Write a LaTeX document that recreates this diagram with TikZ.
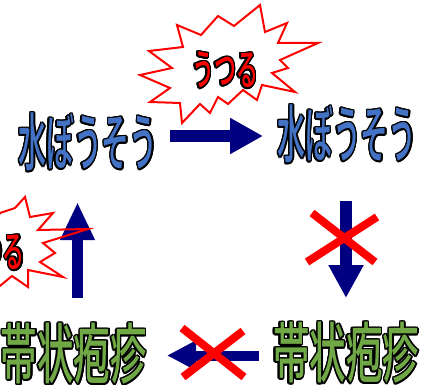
\documentclass[tikz,border=0pt]{standalone}
\usepackage{fontspec}
\usepackage{graphicx}
\usetikzlibrary{arrows.meta}
\newfontfamily\jp{Noto Sans CJK JP Medium}
\definecolor{navy}{HTML}{000080}
\definecolor{kblue}{HTML}{4472C4}
\definecolor{kgreen}{HTML}{70A845}
\definecolor{kred}{HTML}{FF0000}
\newcommand\jt[3]{\scalebox{1}[#2]{\fontsize{#1}{#1}\selectfont\jp #3}}
% name, position, fill colour, size, yscale, text
\newcommand\olnode[6]{%
  \foreach \a in {0,22.5,...,337.5}{\node[lbl, text=black, shift={(\a:1.5)}] at #2 {\jt{#4}{#5}{#6}};}%
  \node[lbl, text=#3] (#1) at #2 {\jt{#4}{#5}{#6}};}
\tikzset{
  lbl/.style={inner sep=0pt, outer sep=0pt},
  blockarrow/.style={navy, line width=#1},
  cross/.style={kred, line width=8pt},
  burst/.style={kred, line width=2pt, line join=miter}
}
\begin{document}
\begin{tikzpicture}[x=1pt,y=-1pt]
\useasboundingbox (0,0) rectangle (434,385);
\clip (0,0) rectangle (434,385);
% labels
\olnode{vz1}{(88,142)}{kblue}{27.8}{2.25}{水ぼうそう}
\olnode{vz2}{(347,134)}{kblue}{27.8}{2.25}{水ぼうそう}
\olnode{hz1}{(74,354)}{kgreen}{36.5}{1.8}{帯状疱疹}
\olnode{hz2}{(346,353)}{kgreen}{36.5}{1.8}{帯状疱疹}
% arrows
\coordinate (r1) at (170,136); \coordinate (r2) at (263,136);
\draw[blockarrow=12pt, -{Triangle[length=33pt,width=34pt]}] (r1) -- (r2);
\coordinate (u1) at (77.5,298); \coordinate (u2) at (77.5,202);
\draw[blockarrow=11.5pt, -{Triangle[length=38pt,width=32pt]}] (u1) -- (u2);
\coordinate (d1) at (346,201); \coordinate (d2) at (346,298);
\draw[blockarrow=12pt, -{Triangle[length=33pt,width=33pt]}] (d1) -- (d2);
\coordinate (l1) at (259,355.5); \coordinate (l2) at (167,355.5);
\draw[blockarrow=10pt, -{Triangle[length=29pt,width=28pt]}] (l1) -- (l2);
% crosses
\coordinate (xa1) at (312,213); \coordinate (xa2) at (375,262);
\coordinate (xa3) at (377,217); \coordinate (xa4) at (307,262);
\draw[cross] (xa1) -- (xa2); \draw[cross] (xa3) -- (xa4);
\coordinate (xb1) at (182,328); \coordinate (xb2) at (244,377);
\coordinate (xb3) at (243,331); \coordinate (xb4) at (183,377);
\draw[cross] (xb1) -- (xb2); \draw[cross] (xb3) -- (xb4);
% starbursts
\draw[burst] (260,5)--(265,32)--(287,23)--(278,43)--(318,43)--(280,60)--(288,68)--(272,73)--(295,92)--(262,85)--(257,100)--(243,90)--(228,104)--(218,97)--(210,113)--(200,104)--(182,123)--(180,103)--(150,102)--(170,88)--(140,75)--(172,68)--(149,51)--(183,47)--(177,25)--(201,35)--(218,16)--(234,26)--cycle;
\draw[burst] (-10,230)--(0,213)--(15,208)--(25,197)--(30,217)--(53,213)--(38,230)--(88,229)--(43,243)--(55,253)--(40,262)--(63,277)--(28,270)--(28,287)--(12,276)--(-5,290);
\olnode{ut1}{(225,70)}{kred}{22}{1.95}{うつる}
\olnode{ut2}{(-8,252)}{kred}{22}{1.95}{うつる}
\end{tikzpicture}
\end{document}
